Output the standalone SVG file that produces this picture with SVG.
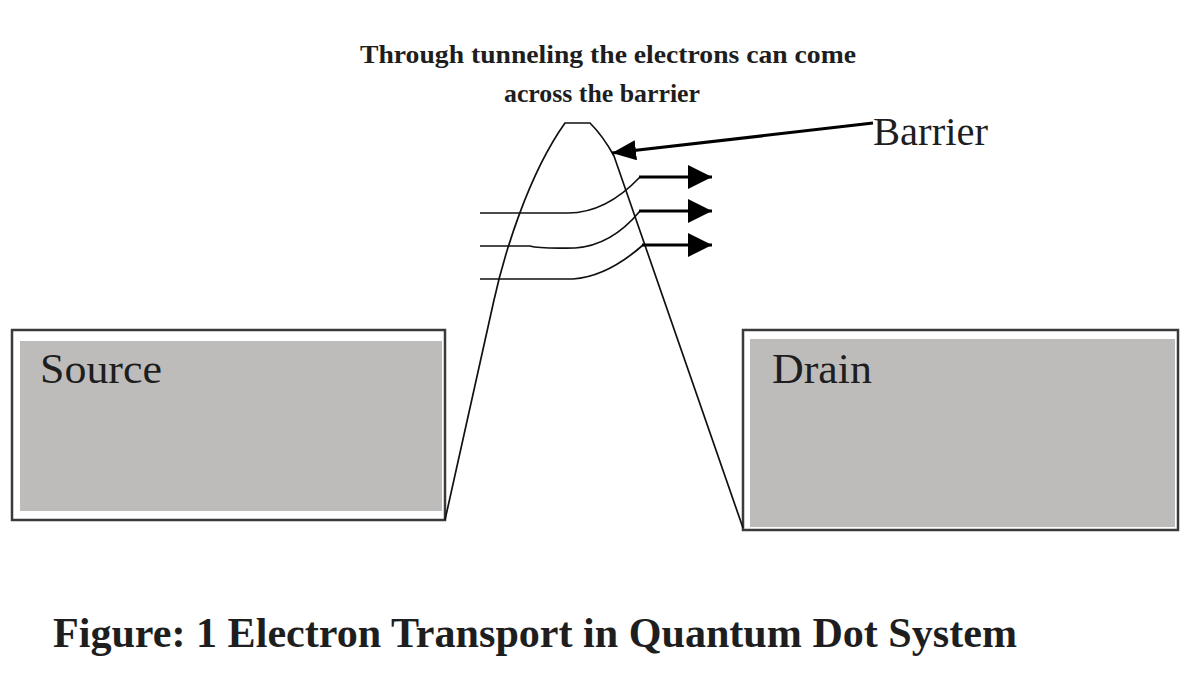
<svg xmlns="http://www.w3.org/2000/svg" width="1202" height="686" viewBox="0 0 1202 686">
<style>
.box{fill:#ffffff;stroke:#3a3a3a;stroke-width:2.5}
.fill{fill:#bebcba}
.lbl{font-family:"Liberation Serif","Times New Roman",serif;fill:#1e1e1e}
.thin{fill:none;stroke:#111;stroke-width:1.7}
.shaft{fill:none;stroke:#000;stroke-width:3.2}
</style>
<defs>
<marker id="ah" viewBox="0 0 24 24" refX="24" refY="12" markerWidth="24" markerHeight="24" markerUnits="userSpaceOnUse" orient="auto">
<path d="M0,0 L24,12 L0,24 Z" fill="#000"/>
</marker>
<marker id="bh" viewBox="0 0 24 20" refX="24" refY="10" markerWidth="24" markerHeight="20" markerUnits="userSpaceOnUse" orient="auto">
<path d="M0,0 L24,10 L0,20 Z" fill="#000"/>
</marker>
</defs>
<rect width="1202" height="686" fill="#ffffff"/>

<g id="source">
<rect class="box" x="12" y="330" width="433" height="190"/>
<rect class="fill" x="20" y="341" width="422" height="170"/>
<text class="lbl" x="40" y="383" font-size="42" textLength="122" lengthAdjust="spacingAndGlyphs">Source</text>
</g>

<g id="drain">
<rect class="box" x="743" y="330" width="435" height="200"/>
<rect class="fill" x="750" y="339" width="425" height="188"/>
<text class="lbl" x="772" y="383" font-size="42" textLength="100" lengthAdjust="spacingAndGlyphs">Drain</text>
</g>

<g id="barrier">
<path class="thin" d="M445,520 L494,300 C504,255 528,175 565,123 L590,123 C600,133 608,145 614,156 L743,528"/>
</g>

<g id="barrier-label">
<text class="lbl" x="873" y="145" font-size="39" textLength="115" lengthAdjust="spacingAndGlyphs">Barrier</text>
</g>

<g id="caption-top">
<text class="lbl" x="608" y="63" font-size="25" text-anchor="middle" font-weight="bold" textLength="496" lengthAdjust="spacingAndGlyphs">Through tunneling the electrons can come</text>
<text class="lbl" x="602" y="102" font-size="25" text-anchor="middle" font-weight="bold" textLength="196" lengthAdjust="spacingAndGlyphs">across the barrier</text>
</g>

<g id="connectors">
<path class="shaft" d="M873,123 L612,153" marker-end="url(#bh)" stroke-width="3"/>
<path class="thin" d="M480,213 L568,213 C598,213 622,196 640,177"/>
<path class="thin" d="M480,246 L530,246 C540,249 560,248 575,248 C604,246 626,228 640,211"/>
<path class="thin" d="M480,279 L573,279 C602,277 626,260 643,245"/>
<path class="shaft" d="M639,177 L712,177" marker-end="url(#ah)"/>
<path class="shaft" d="M639,211 L712,211" marker-end="url(#ah)" stroke-width="4"/>
<path class="shaft" d="M642,245 L712,245" marker-end="url(#ah)"/>
</g>

<g id="caption">
<text class="lbl" x="53" y="647" font-size="43" font-weight="bold" fill="#231f20" textLength="964" lengthAdjust="spacingAndGlyphs">Figure: 1 Electron Transport in Quantum Dot System</text>
</g>
</svg>
